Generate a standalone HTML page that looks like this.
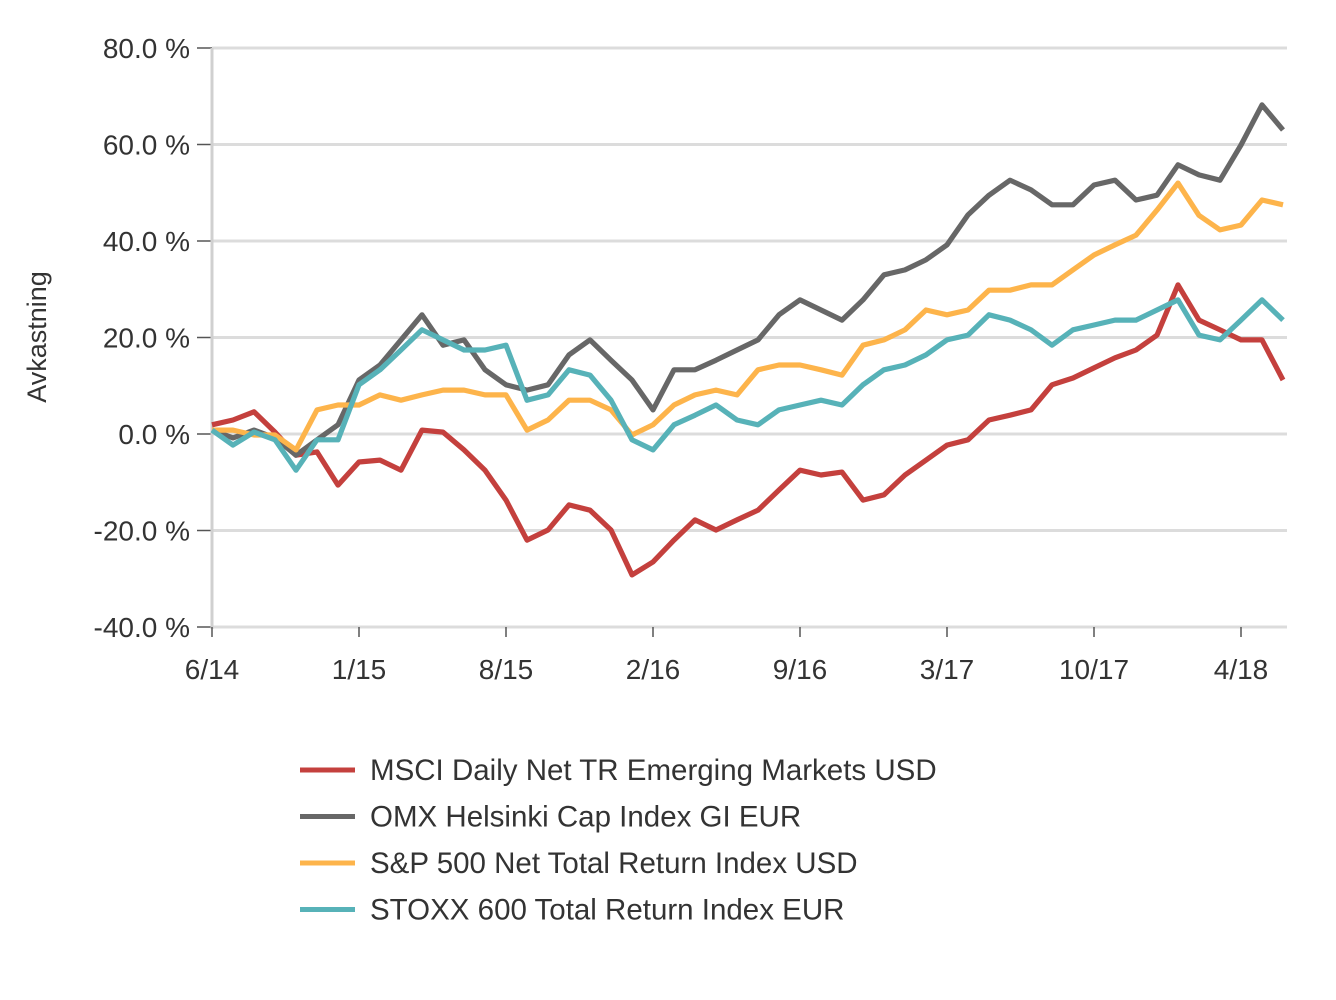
<!DOCTYPE html>
<html><head><meta charset="utf-8"><style>
html,body{margin:0;padding:0;background:#fff;}
svg{display:block;font-family:"Liberation Sans",sans-serif;}
</style></head><body>
<svg id="chart" width="1336" height="1000">
<g id="grid"></g>
<g id="yaxis"></g>
<g id="xaxis"></g>
<text x="46" y="337" transform="rotate(-90 46 337)" text-anchor="middle" font-size="27" fill="#333">Avkastning</text>
<g id="series"></g>
<g id="legend"></g>
</svg>
<script>
const months = [];
for (let i = 0; i < 52; i++) months.push(i);
const xTickLabels = ["6/14","1/15","8/15","2/16","9/16","3/17","10/17","4/18"];
const xTickMonths = [0,7,14,21,28,35,42,49];
const yTicks = [-40,-20,0,20,40,60,80];
const seriesNames = ["MSCI Daily Net TR Emerging Markets USD","OMX Helsinki Cap Index GI EUR","S&P 500 Net Total Return Index USD","STOXX 600 Total Return Index EUR"];
const msci = [1.9,2.9,4.6,0.4,-4.4,-3.7,-10.6,-5.8,-5.4,-7.5,0.8,0.4,-3.3,-7.5,-13.7,-22,-19.9,-14.7,-15.8,-19.9,-29.2,-26.5,-22,-17.8,-19.9,-17.8,-15.8,-11.6,-7.5,-8.5,-7.9,-13.7,-12.6,-8.5,-5.4,-2.3,-1.2,2.9,3.9,5,10.2,11.6,13.7,15.8,17.4,20.5,30.9,23.6,21.6,19.5,19.5,11.2];
const omx = [0.8,-0.8,0.8,-0.8,-4.4,-1.2,1.9,11.2,14.3,19.5,24.7,18.4,19.5,13.3,10.2,9.1,10.2,16.4,19.5,15.3,11.2,5.0,13.3,13.3,15.3,17.4,19.5,24.7,27.8,25.7,23.6,27.8,33.0,34.0,36.1,39.2,45.4,49.5,52.6,50.6,47.5,47.5,51.6,52.6,48.5,49.5,55.8,53.7,52.6,59.9,68.2,63.0];
const sp500 = [0.8,0.8,-0.2,-0.2,-3.3,5.0,6.0,6.0,8.1,7.0,8.1,9.1,9.1,8.1,8.1,0.8,2.9,7.0,7.0,5.0,-0.2,1.9,6.0,8.1,9.1,8.1,13.3,14.3,14.3,13.3,12.2,18.4,19.5,21.6,25.7,24.7,25.7,29.8,29.8,30.9,30.9,34.0,37.1,39.2,41.2,46.4,52.0,45.3,42.3,43.3,48.5,47.5];
const stoxx = [0.8,-2.3,0.4,-1.2,-7.5,-1.2,-1.2,10.2,13.3,17.4,21.6,19.5,17.4,17.4,18.4,7.0,8.1,13.3,12.2,7.0,-1.2,-3.3,1.9,3.9,6.0,2.9,1.9,5.0,6.0,7.0,6.0,10.2,13.3,14.3,16.4,19.5,20.5,24.7,23.6,21.6,18.4,21.6,22.6,23.6,23.6,25.7,27.8,20.5,19.5,23.6,27.8,23.6];
const colors = ["#c4403d","#676767","#fdb44b","#57b2b8"];
const allSeries = [msci, omx, sp500, stoxx];
const keys = ["msci","omx","sp500","stoxx"];

const NS = "http://www.w3.org/2000/svg";
const X0 = 212, X1 = 1287, Y0 = 627, Y1 = 48;
const xScale = m => X0 + m * 21;
const yScale = v => Y0 - (v + 40) / 120 * (Y0 - Y1);
function mk(tag, attrs, parent) {
  const e = document.createElementNS(NS, tag);
  for (const k in attrs) e.setAttribute(k, attrs[k]);
  parent.appendChild(e);
  return e;
}
const grid = document.getElementById("grid");
const yaxis = document.getElementById("yaxis");
const xaxis = document.getElementById("xaxis");
yTicks.forEach(v => {
  const y = yScale(v);
  const gl = mk("line", {x1: X0, x2: X1, y1: y, y2: y, stroke: "#dcdcdc", "stroke-width": 3}, grid);
  
  
  const tk = mk("line", {x1: 197, x2: X0, y1: y, y2: y, stroke: "#555", "stroke-width": 1.5}, yaxis);
  
  
  const t = mk("text", {x: 190, y: y + 10, "text-anchor": "end", "font-size": 28, fill: "#333"}, yaxis);
  t.textContent = v.toFixed(1) + " %";
  
  
});
const ax = mk("line", {x1: X0, x2: X0, y1: Y1, y2: Y0 + 2, stroke: "#d0d0d0", "stroke-width": 3}, yaxis);


xTickMonths.forEach((m, i) => {
  const x = xScale(m);
  const tk = mk("line", {x1: x, x2: x, y1: Y0, y2: Y0 + 10, stroke: "#555", "stroke-width": 1.5}, xaxis);
  
  
  const t = mk("text", {x: x, y: 679, "text-anchor": "middle", "font-size": 28, fill: "#333"}, xaxis);
  t.textContent = xTickLabels[i];
  
  
});
const sg = document.getElementById("series");
const order = [0, 1, 2, 3];
order.forEach(si => {
  const vals = allSeries[si];
  let d = "";
  vals.forEach((v, i) => {
    const m = Math.min(months[i], 51.2);
    d += (i ? "L" : "M") + xScale(m).toFixed(1) + "," + yScale(v).toFixed(1);
  });
  const p = mk("path", {d: d, fill: "none", stroke: colors[si], "stroke-width": 5.2, "stroke-linejoin": "round"}, sg);
  
  
});
const lg = document.getElementById("legend");
seriesNames.forEach((n, i) => {
  const y = 770 + i * 46.5;
  const g = mk("g", {}, lg);
  
  
  mk("line", {x1: 300, x2: 355, y1: y, y2: y, stroke: colors[i], "stroke-width": 5}, g);
  const t = mk("text", {x: 370, y: y + 10, "font-size": 29.5, fill: "#333"}, g);
  t.textContent = n;
});
</script>
</body></html>
